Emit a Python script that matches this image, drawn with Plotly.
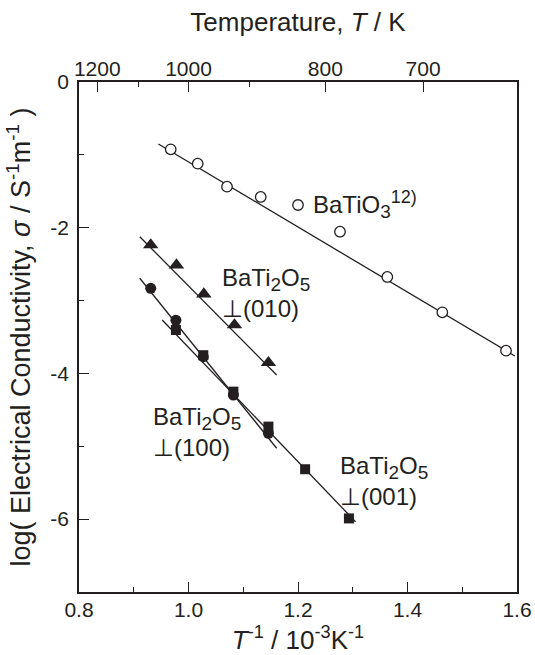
import plotly.graph_objects as go

# ---------------- data ----------------
# BaTiO3 (ref. 12) open circles
batio3_x = [0.9675, 1.0168, 1.0703, 1.1319, 1.2000, 1.2767, 1.3631, 1.4636, 1.5799]
batio3_y = [-0.924, -1.121, -1.437, -1.578, -1.688, -2.055, -2.676, -3.161, -3.688]
batio3_fit_x = [0.945, 1.596]
batio3_fit_y = [-0.851, -3.760]

# BaTi2O5 perpendicular (010): filled triangles
b010_x = [0.931, 0.978, 1.028, 1.084, 1.146]
b010_y = [-2.237, -2.512, -2.910, -3.335, -3.853]
b010_fit_x = [0.911, 1.161]
b010_fit_y = [-2.123, -4.021]

# BaTi2O5 perpendicular (100): filled circles
b100_x = [0.931, 0.977, 1.027, 1.082, 1.146]
b100_y = [-2.832, -3.270, -3.770, -4.296, -4.822]
b100_fit_x = [0.911, 1.161]
b100_fit_y = [-2.694, -5.027]

# BaTi2O5 perpendicular (001): filled squares
b001_x = [0.977, 1.027, 1.082, 1.146, 1.213, 1.293]
b001_y = [-3.404, -3.750, -4.250, -4.730, -5.315, -5.990]
b001_fit_x = [0.952, 1.305]
b001_fit_y = [-3.267, -6.035]

# axes
x_major = [0.8, 1.0, 1.2, 1.4, 1.6]
x_minor = [0.9, 1.1, 1.3, 1.5]
y_major = [0, -2, -4, -6]
y_major_text = ["0", "-2", "-4", "-6"]
y_minor = [-1, -3, -5, -7]
temp_major = [1200, 1000, 800, 700]
temp_minor = [1100, 900]

INK = "#231f20"
FONT = "Liberation Sans, Arial, Helvetica, sans-serif"
FS = 21      # tick labels
FT = 26      # x axis titles
FY = 27      # y axis title
FA = 24      # annotations

fig = go.Figure()

def fit_line(xs, ys):
    fig.add_trace(go.Scatter(x=xs, y=ys, mode="lines",
                             line=dict(color=INK, width=1.3),
                             showlegend=False, hoverinfo="skip"))

fit_line(batio3_fit_x, batio3_fit_y)
fit_line(b010_fit_x, b010_fit_y)
fit_line(b100_fit_x, b100_fit_y)
fit_line(b001_fit_x, b001_fit_y)

fig.add_trace(go.Scatter(x=batio3_x, y=batio3_y, mode="markers",
                         marker=dict(symbol="circle", size=10.5, color="white",
                                     line=dict(color=INK, width=1.3)),
                         showlegend=False))
fig.add_trace(go.Scatter(x=b010_x, y=b010_y, mode="markers",
                         marker=dict(symbol="triangle-up", size=13.5, color=INK,
                                     line=dict(width=0)),
                         showlegend=False))
fig.add_trace(go.Scatter(x=b001_x, y=b001_y, mode="markers",
                         marker=dict(symbol="square", size=10, color=INK,
                                     line=dict(width=0)),
                         showlegend=False))
fig.add_trace(go.Scatter(x=b100_x, y=b100_y, mode="markers",
                         marker=dict(symbol="circle", size=11, color=INK,
                                     line=dict(width=0)),
                         showlegend=False))

# dummy trace on the temperature axis so that it is drawn
fig.add_trace(go.Scatter(x=[1000 / t for t in temp_major], y=[None] * len(temp_major),
                         xaxis="x2", mode="markers", showlegend=False, hoverinfo="skip"))

SUB = "<sub><span style='font-size:19px'>{}</span></sub>"
bati2o5 = "BaTi" + SUB.format("2") + "O" + SUB.format("5")
annos = [
    dict(x=1.224, y=-1.688, text="BaTiO" + SUB.format("3") +
         "<sup><span style='font-size:18px'>12)</span></sup>"),
    dict(x=1.058, y=-2.896, text=bati2o5 + "<br>\u22a5(010)"),
    dict(x=0.931, y=-4.810, text=bati2o5 + "<br>\u22a5(100)"),
    dict(x=1.273, y=-5.476, text=bati2o5 + "<br>\u22a5(001)"),
]
for a in annos:
    fig.add_annotation(x=a["x"], y=a["y"], text=a["text"], showarrow=False,
                       xanchor="left", yanchor="middle", align="left",
                       font=dict(family=FONT, size=FA, color=INK))

axis_common = dict(showline=True, linecolor=INK, linewidth=1.5, showgrid=False,
                   zeroline=False, ticks="inside", tickcolor=INK, tickwidth=1.3,
                   ticklen=10, automargin=False,
                   tickfont=dict(family=FONT, size=FS, color=INK))

fig.update_layout(
    width=535, height=655,
    margin=dict(l=79, r=18, t=82, b=63),
    paper_bgcolor="white", plot_bgcolor="white",
    font=dict(family=FONT, size=FS, color=INK),
    xaxis=dict(range=[0.8, 1.6], tickmode="array", tickvals=x_major,
               ticktext=[f"{v:.1f}" for v in x_major],
               minor=dict(tickvals=x_minor, ticks="inside", ticklen=5,
                          tickcolor=INK, tickwidth=1.3),
               title=dict(text="<i>T</i><sup>-1</sup> / 10<sup>-3</sup>K<sup>-1</sup>",
                          font=dict(family=FONT, size=FT, color=INK), standoff=16),
               ticklabelstandoff=-2,
               **axis_common),
    xaxis2=dict(range=[0.8, 1.6], overlaying="x", side="top", anchor="y",
                tickmode="array", tickvals=[1000 / t for t in temp_major],
                ticktext=[str(t) for t in temp_major],
                minor=dict(tickvals=[1000 / t for t in temp_minor], ticks="inside",
                           ticklen=5, tickcolor=INK, tickwidth=1.3),
                title=dict(text="Temperature, <i>T</i> / K",
                           font=dict(family=FONT, size=FT, color=INK), standoff=18),
                ticklabelstandoff=-4,
                **axis_common),
    yaxis=dict(range=[-7, 0], tickmode="array", tickvals=y_major, ticktext=y_major_text,
               minor=dict(tickvals=y_minor, ticks="inside", ticklen=5,
                          tickcolor=INK, tickwidth=1.3),
               mirror=True,
               title=dict(text="log( Electrical Conductivity, <i>\u03c3</i> / S<sup>-1</sup>m<sup>-1</sup> )",
                          font=dict(family=FONT, size=FY, color=INK), standoff=12),
               ticklabelstandoff=4,
               **axis_common),
)

fig.write_html("out.html", config={"displayModeBar": False},
               post_script="document.body.style.margin='0';")
